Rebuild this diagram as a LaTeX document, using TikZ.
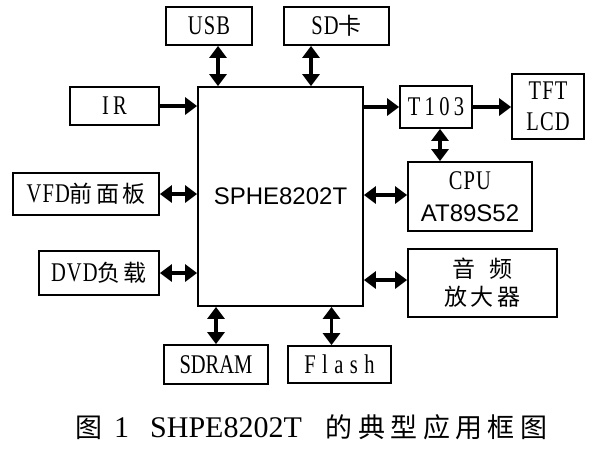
\documentclass[tikz,border=0pt]{standalone}
\usepackage{fontspec}
\usetikzlibrary{arrows.meta}
\setmainfont{Liberation Serif}
\newfontfamily\boxfont[FakeStretch=0.76,LetterSpace=4]{Liberation Serif}
\newfontfamily\chipfont{Liberation Sans}
\newfontfamily\zhfont[LetterSpace=14]{Noto Sans CJK SC}
\newfontfamily\zhcapfont[LetterSpace=20]{Noto Sans CJK SC}
\newcommand\zh[1]{{\fontsize{23}{29}\zhfont #1}}
\newcommand\wide[2]{{\addfontfeature{LetterSpace=#1}#2}}

\tikzset{
  blk/.style = {draw, line width=1.8pt, inner sep=0pt, align=center, font=\fontsize{27}{31}\boxfont},
  tip/.style = {-{Triangle[length=12pt,width=17pt]}, line width=3.6pt},
  dtip/.style = {{Triangle[length=12pt,width=17pt]}-{Triangle[length=12pt,width=17pt]}, line width=3.6pt}
}

\begin{document}
\begin{tikzpicture}[x=1pt,y=-1pt]
\useasboundingbox (0,0) rectangle (599,451);
% main chip
\node[blk, minimum width=165pt, minimum height=219pt, font=\fontsize{24}{29}\chipfont] (main) at (280.5,196.5) {SPHE8202T};
% blocks round it
\node[blk, minimum width=86pt, minimum height=38pt] (usb) at (209,26) {USB};
\node[blk, minimum width=105pt, minimum height=38pt] (sd) at (336.5,26) {SD\zh{卡}};
\node[blk, minimum width=89pt, minimum height=38pt] (ir) at (114.5,106) {\wide{16}{IR}};
\node[blk, minimum width=146pt, minimum height=42pt] (vfd) at (86,194) {VFD\zh{前面板}};
\node[blk, minimum width=120pt, minimum height=44pt] (dvd) at (99,273) {DVD\zh{负载}};
\node[blk, minimum width=72pt, minimum height=42pt] (t103) at (436,107) {\wide{16}{T103}};
\node[blk, minimum width=72pt, minimum height=65pt] (tft) at (548,106.5) {TFT\\LCD};
\node[blk, minimum width=124pt, minimum height=69pt] (cpu) at (470,196.5) {CPU\\[1pt]{\fontsize{24}{29}\chipfont AT89S52}};
\node[blk, minimum width=149pt, minimum height=68pt] (amp) at (482.5,283) {\zh{音\hspace{0.6em}频}\\[-3pt]\zh{放大器}};
\node[blk, minimum width=104pt, minimum height=39pt] (sdram) at (216,364.5) {\wide{0}{SDRAM}};
\node[blk, minimum width=103pt, minimum height=37pt] (flash) at (339.5,364.5) {\wide{24}{Flash}};
% caption
\node[anchor=base west, inner sep=0pt, font=\fontsize{30}{36}\selectfont] (cap) at (75,437)
  {{\fontsize{27}{33}\zhcapfont 图}\hspace{12pt}1\hspace{21pt}SHPE8202T\hspace{24pt}{\fontsize{27}{33}\zhcapfont 的典型应用框图}};

% connectors
\coordinate (usbp) at ([xshift=9pt]usb.south);
\coordinate (sdp) at ([xshift=-25.5pt]sd.south);
\coordinate (tp) at ([xshift=4pt]t103.south);
\coordinate (flp) at ([xshift=-8pt]flash.north);
\draw[dtip] (usbp) -- (usbp |- main.north);
\draw[dtip] (sdp) -- (sdp |- main.north);
\draw[tip] (ir.east) -- (ir.east -| main.west);
\draw[dtip] (vfd.east) -- (vfd.east -| main.west);
\draw[dtip] (dvd.east) -- (dvd.east -| main.west);
\draw[tip] (t103.west -| main.east) -- (t103.west);
\draw[tip] (t103.east) -- (t103.east -| tft.west);
\draw[dtip] (tp) -- (tp |- cpu.north);
\draw[dtip] ([yshift=1.5pt]cpu.west -| main.east) -- ([yshift=1.5pt]cpu.west);
\draw[dtip] ([yshift=3pt]amp.west -| main.east) -- ([yshift=3pt]amp.west);
\draw[dtip] (sdram.north |- main.south) -- (sdram.north);
\draw[dtip] (flp |- main.south) -- (flp);
\end{tikzpicture}
\end{document}
